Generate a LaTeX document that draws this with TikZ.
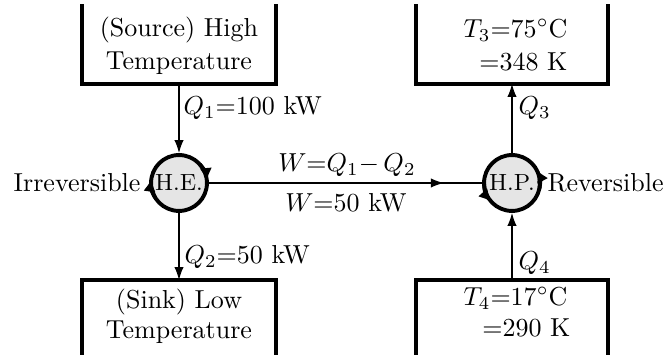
\documentclass[tikz,border=0pt]{standalone}
\usetikzlibrary{arrows.meta,calc}
\begin{document}
\begin{tikzpicture}[x=0.3846pt,y=0.3846pt,
  every node/.style={font=\normalsize, inner sep=0pt},
  wall/.style={line width=1.54pt},
  reservoir/.style={minimum width=73.1pt, minimum height=29.2pt, outer sep=0.77pt},
  flow/.style={line width=0.5pt,-{Latex[length=5pt,width=3.6pt]}},
  plain/.style={line width=0.5pt},
  engine/.style={circle,draw,line width=1.5pt,fill=black!10,minimum size=21.5pt,font=\small},
  tip/.style={line width=1.5pt,-{Latex[length=4.8pt,width=4.8pt]}}
]
\useasboundingbox (0,0) rectangle (666,355);

% reservoirs (three-walled boxes)
\node[reservoir] (src) at (179,311) {};
\node[reservoir] (sink) at (179,35) {};
\node[reservoir,minimum width=72.3pt] (hot) at (512,311) {};
\node[reservoir,minimum width=72.3pt] (cold) at (512,35) {};
\draw[wall] (src.north west) -- (src.south west) -- (src.south east) -- (src.north east);
\draw[wall] (hot.north west) -- (hot.south west) -- (hot.south east) -- (hot.north east);
\draw[wall] (sink.south west) -- (sink.north west) -- (sink.north east) -- (sink.south east);
\draw[wall] (cold.south west) -- (cold.north west) -- (cold.north east) -- (cold.south east);

% reservoir texts
\node (srcA) at (179,325) {(Source) High};
\node (srcB) at (179,292) {Temperature};
\node (sinkA) at (179,53) {(Sink) Low};
\node (sinkB) at (179,23) {Temperature};
\node[anchor=east] (hotA) at (568,325) {$T_3{=}75^\circ$C};
\node[anchor=east] (hotB) at (568,293) {${=}348$ K};
\node[anchor=east] (coldA) at (568,57) {$T_4{=}17^\circ$C};
\node[anchor=east] (coldB) at (571,27) {${=}290$ K};

% engines
\node[engine] (he) at (179,172) {H.E.};
\node[engine] (hp) at (512,172) {H.P.};

% cycle direction arrows
\draw[tip] ($(he.center)+(42:28)$) arc (42:5:28);
\draw[tip] ($(he.center)+(212:28)$) arc (212:172:28);
\draw[tip] ($(hp.center)+(-12:28)$) arc (-12:28:28);
\draw[tip] ($(hp.center)+(182:28)$) arc (182:222:28);

% flows
\draw[flow] (src.south) -- (he.north);
\draw[flow] (he.south) -- (sink.north);
\draw[flow] (hp.north) -- (hot.south);
\draw[flow] (cold.north) -- (hp.south);
\draw[plain] (he.east) -- (hp.west);
\draw[flow] (he.east) -- ($(he.east)!0.86!(hp.west)$);

% labels
\node[anchor=west] (q1) at (183,247) {$Q_1{=}100$ kW};
\node[anchor=west] (q2) at (184,98) {$Q_2{=}50$ kW};
\node[anchor=west] (q3) at (518,247) {$Q_3$};
\node[anchor=west] (q4) at (518,92) {$Q_4$};
\node (w1) at (347,190) {$W{=}Q_1{-}\,Q_2$};
\node (w2) at (346,152) {$W{=}50$ kW};
\node[anchor=east] (irr) at (141,172) {Irreversible};
\node[anchor=west] (rev) at (547,172) {Reversible};
\end{tikzpicture}
\end{document}
